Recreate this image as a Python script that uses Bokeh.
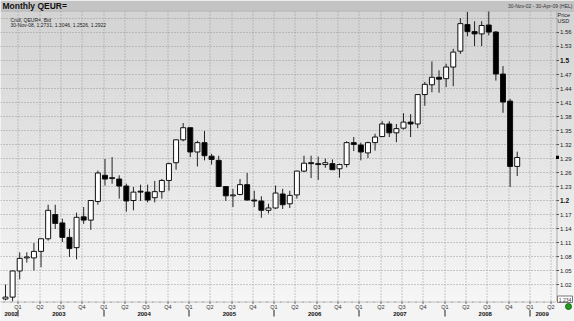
import numpy as np
from bokeh.plotting import figure
from bokeh.models import Range1d, ColumnDataSource
from bokeh.core.properties import value
from bokeh.embed import file_html
from bokeh.resources import INLINE

FONT = "Liberation Sans"

# ---------------- data (monthly QEUR= bid, Nov-2002 .. Nov-2008) ----------------
opens = [0.989, 0.993, 1.049, 1.077, 1.077, 1.091, 1.118, 1.170, 1.152, 1.121,
         1.099, 1.165, 1.158, 1.198, 1.254, 1.247, 1.246, 1.231, 1.200, 1.220,
         1.218, 1.206, 1.219, 1.243, 1.281, 1.330, 1.356, 1.304, 1.324, 1.295,
         1.286, 1.230, 1.210, 1.213, 1.234, 1.201, 1.199, 1.179, 1.184, 1.214,
         1.193, 1.212, 1.263, 1.281, 1.279, 1.277, 1.279, 1.268, 1.277, 1.324,
         1.319, 1.302, 1.324, 1.337, 1.364, 1.345, 1.355, 1.368, 1.364, 1.427,
         1.448, 1.464, 1.461, 1.486, 1.520, 1.577, 1.562, 1.557, 1.576, 1.561,
         1.471, 1.413, 1.2731]
highs = [1.020, 1.050, 1.089, 1.089, 1.109, 1.118, 1.191, 1.191, 1.161, 1.139,
         1.174, 1.186, 1.200, 1.264, 1.289, 1.293, 1.254, 1.236, 1.229, 1.234,
         1.234, 1.242, 1.246, 1.281, 1.331, 1.366, 1.357, 1.328, 1.349, 1.300,
         1.296, 1.231, 1.225, 1.246, 1.259, 1.221, 1.209, 1.193, 1.232, 1.225,
         1.221, 1.264, 1.296, 1.296, 1.294, 1.290, 1.288, 1.279, 1.327, 1.336,
         1.324, 1.326, 1.343, 1.370, 1.370, 1.364, 1.387, 1.385, 1.427, 1.454,
         1.498, 1.479, 1.493, 1.525, 1.591, 1.604, 1.584, 1.584, 1.605, 1.563,
         1.488, 1.418, 1.3046]
lows = [0.986, 0.984, 1.031, 1.067, 1.050, 1.057, 1.114, 1.139, 1.111, 1.079,
        1.074, 1.150, 1.137, 1.191, 1.232, 1.236, 1.204, 1.176, 1.179, 1.199,
        1.196, 1.196, 1.204, 1.221, 1.266, 1.327, 1.293, 1.273, 1.286, 1.277,
        1.229, 1.199, 1.186, 1.211, 1.200, 1.186, 1.163, 1.172, 1.182, 1.182,
        1.184, 1.204, 1.261, 1.248, 1.244, 1.270, 1.266, 1.249, 1.271, 1.306,
        1.286, 1.291, 1.307, 1.336, 1.336, 1.325, 1.352, 1.336, 1.355, 1.403,
        1.432, 1.431, 1.443, 1.445, 1.514, 1.552, 1.531, 1.531, 1.554, 1.457,
        1.388, 1.229, 1.2526]
closes = [0.993, 1.049, 1.076, 1.079, 1.091, 1.118, 1.179, 1.151, 1.121, 1.097,
          1.164, 1.158, 1.200, 1.259, 1.246, 1.249, 1.231, 1.199, 1.218, 1.218,
          1.201, 1.219, 1.243, 1.279, 1.330, 1.356, 1.304, 1.324, 1.296, 1.288,
          1.230, 1.210, 1.212, 1.234, 1.201, 1.199, 1.179, 1.184, 1.216, 1.191,
          1.211, 1.263, 1.280, 1.279, 1.277, 1.281, 1.266, 1.277, 1.324, 1.320,
          1.304, 1.324, 1.336, 1.364, 1.345, 1.354, 1.368, 1.364, 1.427, 1.449,
          1.464, 1.460, 1.486, 1.518, 1.579, 1.562, 1.557, 1.575, 1.561, 1.471,
          1.411, 1.273, 1.2922]

y_tick_values = [1.02, 1.05, 1.08, 1.11, 1.14, 1.17, 1.2, 1.23, 1.26, 1.29,
                 1.32, 1.35, 1.38, 1.41, 1.44, 1.47, 1.5, 1.53, 1.56]
y_tick_labels = ["1.02", "1.05", "1.08", "1.11", "1.14", "1.17", "1.2", "1.23",
                 "1.26", "1.29", "1.32", "1.35", "1.38", "1.41", "1.44", "1.47",
                 "1.5", "1.53", "1.56"]
y_bold_values = [1.2, 1.5]
y_grid_values = y_tick_values + [1.59]
quarter_names = ["Q1", "Q2", "Q3", "Q4"]
year_labels = ["2002", "2003", "2004", "2005", "2006", "2007", "2008", "2009"]

title_text = "Monthly QEUR="
legend_line1 = "Cndl, QEUR=, Bid"
legend_line2 = "30-Nov-08, 1.2731, 1.3046, 1.2526, 1.2922"
range_text = "30-Nov-02 - 30-Apr-09 (HEL)"
axis_unit = ["Price", "USD"]
scale_box_text = "1.234"

# ---------------- layout constants (pixels) ----------------
W, H = 574, 321
PX_I0, PX_PER_MONTH = 5.0, 7.107        # x pixel of first month, pixels per month
PY_REF, V_REF, PX_PER_UNIT = 60.0, 1.5, 466.7
PLOT_L, PLOT_R, PLOT_T, PLOT_B = 0, 556, 11, 301


def px2x(px):
    return (px - PX_I0) / PX_PER_MONTH


def x2px(x):
    return PX_I0 + x * PX_PER_MONTH


def py2v(py):
    return V_REF - (py - PY_REF) / PX_PER_UNIT


def snap(x):
    # move a month position to the nearest pixel centre for crisp 1px lines
    return px2x(np.floor(x2px(x)) + 0.5)


# ---------------- derived ----------------
mnames = ["Jan", "Feb", "Mar", "Apr", "May", "Jun", "Jul", "Aug", "Sep", "Oct", "Nov", "Dec"]
n = len(opens)
months = []
yy, mm = 2002, 11
for _ in range(n):
    months.append(f"{mnames[mm-1]}-{yy % 100:02d}")
    mm += 1
    if mm > 12:
        mm = 1
        yy += 1
xs = list(range(n))


def month_num(i):
    return (10 + i) % 12 + 1


last_index = 77  # Apr-2009, right end of time axis
q_ticks, q_text, m_ticks = [], [], []
for i in range(0, last_index + 1):
    t = i - 0.2
    m_ticks.append(snap(t))
    if month_num(i) in (1, 4, 7, 10):
        q_ticks.append(snap(t))
        q_text.append(quarter_names[(month_num(i) - 1) // 3])

yr_pos, yr_text, sep_pos = [], [], []
for lab_ in year_labels:
    year = int(lab_)
    jan_idx = 2 + 12 * (year - 2003)
    if year == 2002:
        c = 0.8
    elif year == 2009:
        c = 75.5
    else:
        c = jan_idx + 5.5
    yr_pos.append(c)
    yr_text.append(lab_)
    if year >= 2003:
        sep_pos.append(snap(jan_idx - 0.2))

src = ColumnDataSource(dict(
    x=xs, month=months, open=opens, high=highs, low=lows, close=closes,
    top=[max(o, c) for o, c in zip(opens, closes)],
    bottom=[min(o, c) for o, c in zip(opens, closes)],
    fill=["white" if c >= o else "black" for o, c in zip(opens, closes)],
))

p = figure(width=W, height=H, x_range=Range1d(px2x(0), px2x(W)),
           y_range=Range1d(py2v(H), py2v(0)), output_backend="svg",
           toolbar_location=None, x_axis_location=None, y_axis_location=None,
           min_border=0, background_fill_color="#f4f4f4",
           border_fill_color="#f4f4f4", outline_line_color=None)
p.grid.visible = False

# ---------------- background ----------------
top_c = np.array([0xd4, 0xd4, 0xd4], dtype=float)
bot_c = np.array([0xf6, 0xf6, 0xf6], dtype=float)
nb = 58
band_h = (PLOT_B - PLOT_T) / nb
bl, br, bt, bb, bc = [], [], [], [], []
for k in range(nb):
    t = k / (nb - 1)
    c = top_c + (bot_c - top_c) * t
    bl.append(px2x(0)); br.append(px2x(W))
    bt.append(py2v(PLOT_T + k * band_h)); bb.append(py2v(PLOT_T + (k + 1) * band_h + 0.5))
    bc.append("#%02x%02x%02x" % tuple(int(v) for v in c))
p.quad(left=bl, right=br, top=bt, bottom=bb, fill_color=bc, line_color=None)
# title bar
p.quad(left=[px2x(0)], right=[px2x(W)], top=[py2v(0)], bottom=[py2v(10)],
       fill_color="#c4c4c4", line_color=None)
p.quad(left=[px2x(0)], right=[px2x(W)], top=[py2v(10)], bottom=[py2v(11)],
       fill_color="#a0a0a0", line_color=None)

# ---------------- grid ----------------
p.segment(x0=q_ticks, x1=q_ticks, y0=[py2v(PLOT_T)] * len(q_ticks),
          y1=[py2v(PLOT_B)] * len(q_ticks), line_color="#999999",
          line_dash="1 2", line_width=1)
p.segment(x0=[px2x(PLOT_L)] * len(y_grid_values), x1=[px2x(PLOT_R)] * len(y_grid_values),
          y0=y_grid_values, y1=y_grid_values, line_color="#999999",
          line_dash="1 2", line_width=1)
# plot frame: right border and bottom dotted axis line with month ticks
p.segment(x0=[px2x(PLOT_R + 0.5)], x1=[px2x(PLOT_R + 0.5)], y0=[py2v(PLOT_T)],
          y1=[py2v(PLOT_B)], line_color="#a8a8a8", line_width=1)
p.segment(x0=[px2x(PLOT_L)], x1=[px2x(PLOT_R)], y0=[py2v(PLOT_B + 0.5)],
          y1=[py2v(PLOT_B + 0.5)], line_color="#888888", line_dash="1 1", line_width=1)
p.segment(x0=m_ticks, x1=m_ticks, y0=[py2v(PLOT_B)] * len(m_ticks),
          y1=[py2v(PLOT_B + 1.5)] * len(m_ticks), line_color="#999999", line_width=1)
p.segment(x0=q_ticks, x1=q_ticks, y0=[py2v(PLOT_B)] * len(q_ticks),
          y1=[py2v(PLOT_B + 2.5)] * len(q_ticks), line_color="#777777", line_width=1)

# ---------------- candles ----------------
p.segment(x0="x", y0="low", x1="x", y1="high", source=src, line_color="#222222", line_width=1)
p.vbar(x="x", width=0.7, top="top", bottom="bottom", source=src,
       fill_color="fill", line_color="#111111", line_width=1)

# ---------------- right price scale ----------------
p.segment(x0=[px2x(PLOT_R)] * len(y_tick_values), x1=[px2x(PLOT_R + 2.5)] * len(y_tick_values),
          y0=y_tick_values, y1=y_tick_values, line_color="#555555", line_width=1)
norm_v = [v for v in y_tick_values if v not in y_bold_values]
norm_t = [s for v, s in zip(y_tick_values, y_tick_labels) if v not in y_bold_values]
bold_v = [v for v in y_tick_values if v in y_bold_values]
bold_t = [s for v, s in zip(y_tick_values, y_tick_labels) if v in y_bold_values]
p.text(x=[px2x(PLOT_R + 3.5)] * len(norm_v), y=norm_v, text=norm_t,
       text_font=value(FONT), text_font_size="6px", text_color="#222222",
       text_align="left", text_baseline="middle")
p.text(x=[px2x(PLOT_R + 3.5)] * len(bold_v), y=bold_v, text=bold_t,
       text_font=value(FONT), text_font_size="6.5px", text_font_style=value("bold"),
       text_color="#111111", text_align="left", text_baseline="middle")
# current price marker
p.quad(left=[px2x(PLOT_R - 0.5)], right=[px2x(PLOT_R + 2.5)],
       top=[closes[-1] + 0.0035], bottom=[closes[-1] - 0.0035],
       fill_color="black", line_color=None)
p.text(x=[px2x(557)] * 2, y=[py2v(14.3), py2v(20.5)], text=axis_unit,
       text_font=value(FONT), text_font_size="5.5px", text_color="#222222",
       text_align="left", text_baseline="middle")
# scale box at the bottom of the price axis
p.quad(left=[px2x(557)], right=[px2x(572)], top=[py2v(295.5)], bottom=[py2v(302)],
       fill_color="white", line_color="#777777", line_width=1)
p.text(x=[px2x(564.5)], y=[py2v(299)], text=[scale_box_text],
       text_font=value(FONT), text_font_size="5px", text_color="#333333",
       text_align="center", text_baseline="middle")
# green status dot
p.scatter(x=[px2x(568)], y=[py2v(306)], size=6, marker="circle",
          fill_color="#1f9a1f", line_color="#137013")

# ---------------- time scale labels ----------------
p.text(x=q_ticks, y=[py2v(306)] * len(q_ticks), text=q_text,
       text_font=value(FONT), text_font_size="5.5px", text_color="#333333",
       text_align="center", text_baseline="middle")
p.text(x=yr_pos, y=[py2v(313.5)] * len(yr_pos), text=yr_text,
       text_font=value(FONT), text_font_size="6px", text_font_style=value("bold"),
       text_color="#111111", text_align="center", text_baseline="middle")
# year separators
p.segment(x0=sep_pos, x1=sep_pos, y0=[py2v(309.5)] * len(sep_pos),
          y1=[py2v(316)] * len(sep_pos), line_color="#222222", line_width=1)

# ---------------- header texts ----------------
p.text(x=[px2x(2)], y=[py2v(5.3)], text=[title_text], text_font=value(FONT),
       text_font_size="8.5px", text_font_style=value("bold"), text_color="#111111",
       text_align="left", text_baseline="middle")
p.text(x=[px2x(572)], y=[py2v(5.8)], text=[range_text], text_font=value(FONT),
       text_font_size="5px", text_color="#333333", text_align="right",
       text_baseline="middle")
p.text(x=[px2x(10)] * 2, y=[py2v(19), py2v(24.2)], text=[legend_line1, legend_line2],
       text_font=value(FONT), text_font_size="5px", text_color="#222222",
       text_align="left", text_baseline="middle")

open("out.html", "w").write(file_html(p, INLINE))
